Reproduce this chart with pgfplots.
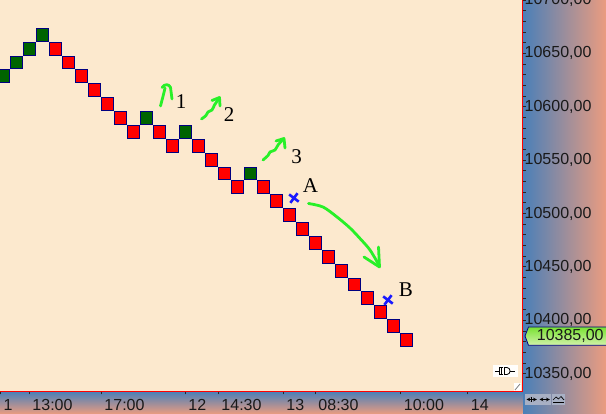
\documentclass[border=0pt]{standalone}
\usepackage{pgfplots}
\pgfplotsset{compat=1.18}
\usepackage{fontspec}
\setmainfont{Liberation Sans}
\newfontfamily\serif{Liberation Serif}
\definecolor{plotbg}{RGB}{252,233,206}
\definecolor{bandblue}{RGB}{74,127,184}
\definecolor{bandsalmon}{RGB}{235,156,128}
\definecolor{brickred}{RGB}{255,0,0}
\definecolor{brickgreen}{RGB}{0,100,0}
\definecolor{brickedge}{RGB}{0,0,128}
\definecolor{annogreen}{RGB}{40,240,40}
\definecolor{annoblue}{RGB}{25,25,255}
\definecolor{tagtop}{RGB}{120,225,50}
\definecolor{tagbot}{RGB}{210,242,170}
\definecolor{iconbg}{RGB}{168,176,196}
\pgfdeclareplotmark{renko}{%
  \pgfpathrectangle{\pgfpoint{-6pt}{-6.43pt}}{\pgfpoint{12pt}{12.86pt}}%
  \pgfusepathqfillstroke}
\begin{document}
\begin{tikzpicture}
\path[use as bounding box] (0pt,-22.5pt) rectangle (606pt,391.5pt);
\shade[left color=bandblue, right color=bandsalmon] (522.5pt,-22.5pt) rectangle (606pt,391.5pt);
\shade[top color=bandblue, bottom color=bandsalmon] (0pt,-22.5pt) rectangle (522.5pt,0pt);
\begin{axis}[
  at={(0pt,0pt)}, anchor=south west,
  scale only axis, width=522.5pt, height=391.5pt,
  xmin=-0.286, xmax=39.95, ymin=10333.3, ymax=10700,
  axis background/.style={fill=plotbg},
  axis x line*=bottom, axis y line*=right,
  axis line style={draw=red, line width=1.3pt},
  xtick={-0.25,1.970,7.514,13.983,16.524,21.529,23.993,30.569,35.728},
  xticklabels={1,13:00,17:00,12,14:30,13,08:30,10:00,14},
  ytick={10350,10400,...,10700},
  yticklabels={{10350,00},{10400,00},{10450,00},{10500,00},{10550,00},{10600,00},{10650,00},{10700,00}},
  minor y tick num=4,
  tick align=outside,
  major tick length=3pt, minor tick length=3pt,
  tick style={draw=black!85, line width=0.9pt},
  xticklabel style={anchor=base west, inner sep=0pt, xshift=3pt, yshift=-16.5pt, font=\fontsize{16}{18}\selectfont, text=black!90},
  yticklabel style={anchor=west, inner sep=0pt, xshift=-1pt, font=\fontsize{16}{18}\selectfont, text=black!90},
  /pgf/number format/assume math mode=true,
]
\addplot[only marks, mark=renko, mark options={fill=brickgreen, draw=brickedge, line width=1pt, solid}]
  coordinates {(0,10628.5) (1,10641.5) (2,10654.5) (3,10667.5) (11,10589.5) (14,10576.5) (19,10537.5)};
\addplot[only marks, mark=renko, mark options={fill=brickred, draw=brickedge, line width=1pt, solid}]
  coordinates {(4,10654.5) (5,10641.5) (6,10628.5) (7,10615.5) (8,10602.5) (9,10589.5) (10,10576.5)
   (12,10576.5) (13,10563.5) (15,10563.5) (16,10550.5) (17,10537.5) (18,10524.5) (20,10524.5)
   (21,10511.5) (22,10498.5) (23,10485.5) (24,10472.5) (25,10459.5) (26,10446.5) (27,10433.5)
   (28,10420.5) (29,10407.5) (30,10394.5) (31,10381.5)};
\addplot[only marks, mark=x, mark size=6pt, mark options={draw=annoblue, line width=2.6pt, rotate=8}]
  coordinates {(22.35,10514.5) (29.59,10419.0)};
\end{axis}
% price tag
\shade[top color=tagtop, bottom color=tagbot, draw=brickedge, line width=0.8pt]
  (525pt,55.5pt) -- (528.5pt,64.5pt) -- (607pt,64.5pt) -- (607pt,46.2pt) -- (528.5pt,46.2pt) -- cycle;
\node[anchor=west, inner sep=0pt, font=\fontsize{16}{18}\selectfont, text=black!90] at (536.7pt,55.5pt) {10385,00};
\begin{scope}[shift={(0pt,391.5pt)}, x=1pt, y=-1pt]
  % small icons
  \fill[white!95!plotbg] (493,364.7) rectangle (518,377);
  \draw[black, line width=0.8pt] (495,371) -- (499.5,371);
  \draw[black, line width=0.8pt] (503,367.5) -- (499.5,367.5) -- (499.5,374.5) -- (503,374.5);
  \draw[black, line width=0.8pt] (501.5,367.5) -- (501.5,374.5);
  \draw[black, line width=0.8pt] (504.5,367.5) -- (507,367.5) .. controls (511,367.5) and (511,374.5) .. (507,374.5) -- (504.5,374.5) -- cycle;
  \draw[black, line width=0.8pt] (510,371) -- (515,371);
  \fill[white] (514,383) rectangle (521,391);
  \draw[gray, line width=0.8pt] (515,390) -- (520,384);
  \fill[iconbg] (525.3,393.7) rectangle (537.8,405.3);
  \fill[iconbg] (538.4,393.7) rectangle (550.9,405.3);
  \fill[iconbg] (552,393.7) rectangle (565.3,405.3);
  \draw[black, line width=0.7pt, <->, >=stealth] (526.5,399.5) -- (536.8,399.5);
  \draw[black, line width=0.7pt] (531.6,397) -- (531.6,402);
  \draw[black, line width=0.7pt, <->, >=stealth] (539.5,399.5) -- (549.8,399.5);
  \draw[black, line width=0.7pt] (553,400) -- (556,397) -- (558.5,399) -- (561,396.5) -- (564,400);
  \draw[black, line width=0.7pt] (553,402.5) -- (564,402.5);
  % green hand-drawn arrows
  \begin{scope}[annogreen, line width=2.8pt, line cap=round, line join=round]
    \draw (160.5,106) .. controls (162,100) and (164,93) .. (165,88);
    \draw (162,87.5) .. controls (165,83.5) and (169,84) .. (170.5,87.5) -- (172,99);
    \draw plot[smooth] coordinates {(201.5,119) (206,115.5) (208,112) (212,110) (214.5,105) (218,100)};
    \draw (212,100.5) -- (219.5,97.5) -- (220,106);
    \draw plot[smooth] coordinates {(263,160) (268,155.5) (270,152) (275,150) (278,145) (282,140.5)};
    \draw (276,141) -- (284,138.5) -- (285,148);
    \draw plot[smooth] coordinates {(308.5,203.5) (323,207) (337,217) (350,228) (360,238.5) (370,250) (379.5,266)};
    \draw (364,257) -- (379.5,267) -- (378.5,247);
  \end{scope}
  % labels
  \begin{scope}[every node/.style={inner sep=0pt, font=\serif\fontsize{21}{21}\selectfont, text=black}]
    \node at (181,101.5) {1};
    \node at (229,115) {2};
    \node at (296.7,157) {3};
    \node at (310.5,185.5) {A};
    \node at (406,289.5) {B};
  \end{scope}
\end{scope}
\end{tikzpicture}
\end{document}
